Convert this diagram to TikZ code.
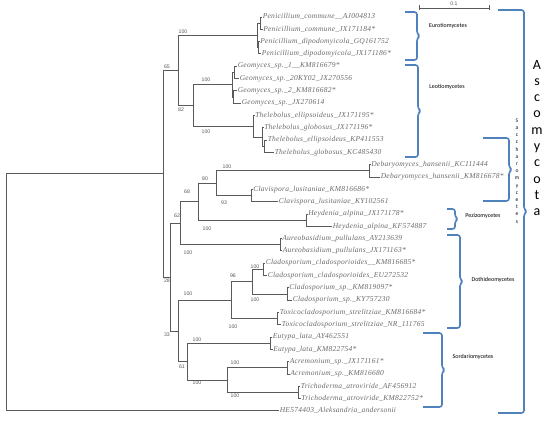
\documentclass[tikz,border=0pt]{standalone}
\usepackage{fontspec}
\newfontfamily\leaffont[LetterSpace=3.5]{Liberation Serif}
\newfontfamily\bsfont{Liberation Sans}
\newfontfamily\cladefont{Carlito}
\definecolor{treegray}{HTML}{5A5A5A}
\definecolor{leafgray}{HTML}{6A6A6A}
\definecolor{braceblue}{HTML}{4F81BD}
\tikzset{
  tree/.style={draw=treegray, line width=0.8pt},
  leaf/.style={anchor=west, inner sep=0.6pt, text=leafgray,
    font=\leaffont\itshape\fontsize{7.5}{9}\selectfont, text height=5pt, text depth=1.5pt},
  boot/.style={font=\bsfont\fontsize{5.2}{6}\selectfont, text=treegray, inner sep=0pt},
  clade/.style={font=\cladefont\fontsize{6}{7}\selectfont, inner sep=0pt},
  bracestyle/.style={draw=braceblue, line width=1.6pt, rounded corners=2.5pt, line join=round}
}
\newcommand\cladebrace[4]{%
  \draw[bracestyle] (#1,#3) -- (#2,#3) -- (#2,{(#3+#4)/2-2.5}) -- ({#2+3},{(#3+#4)/2})
    -- (#2,{(#3+#4)/2+2.5}) -- (#2,#4) -- (#1,#4);}
\begin{document}
\begin{tikzpicture}[x=1pt,y=-1pt]
\useasboundingbox (0,0) rectangle (550,422);
% internal nodes
\coordinate (root) at (6,292.35);
\coordinate (Xtop) at (163,173.8);
\coordinate (n65) at (178,70.5);
\coordinate (P) at (257,35.5);
\coordinate (A12) at (260,23.15);
\coordinate (A34) at (258,47.75);
\coordinate (n82) at (193,105.6);
\coordinate (G) at (232,84.7);
\coordinate (G56) at (234,72.4);
\coordinate (G78) at (233,97.05);
\coordinate (T) at (253,126.5);
\coordinate (Tb) at (262,137.5);
\coordinate (Tc) at (264.5,146.25);
\coordinate (n28) at (170,277.1);
\coordinate (n62) at (180,223.2);
\coordinate (n68) at (198,201.7);
\coordinate (n80) at (216,183.2);
\coordinate (Deb) at (369,170.85);
\coordinate (Cl) at (251,195.5);
\coordinate (He) at (306,220.15);
\coordinate (Au) at (280,244.75);
\coordinate (n33) at (178,331);
\coordinate (Do) at (231,300.2);
\coordinate (Cd) at (252,281.7);
\coordinate (Cc) at (263,269.35);
\coordinate (Cs) at (287,293.95);
\coordinate (Tx) at (277,318.6);
\coordinate (n61) at (187,361.7);
\coordinate (Eu) at (270,343.25);
\coordinate (AT) at (227,380.1);
\coordinate (Ac) at (287,367.85);
\coordinate (Tr) at (298,392.45);
% leaves
\node[leaf] (l1) at (262,17) {Penicillium\_commune\_\_AJ004813};
\node[leaf] (l2) at (262.5,29.3) {Penicillium\_commune\_JX171184*};
\node[leaf] (l3) at (259.5,41.6) {Penicillium\_dipodomyicola\_GQ161752};
\node[leaf] (l4) at (261,53.9) {Penicillium\_dipodomyicola\_JX171186*};
\node[leaf] (l5) at (237,66.2) {Geomyces\_sp.\_1\_\_KM816679*};
\node[leaf] (l6) at (239,78.6) {Geomyces\_sp.\_20KY02\_JX270556};
\node[leaf] (l7) at (237,90.9) {Geomyces\_sp.\_2\_KM816682*};
\node[leaf] (l8) at (241,103.2) {Geomyces\_sp.\_JX270614};
\node[leaf] (l9) at (254.5,115.5) {Thelebolus\_ellipsoideus\_JX171195*};
\node[leaf] (l10) at (263.5,127.8) {Thelebolus\_globosus\_JX171196*};
\node[leaf] (l11) at (267,140.1) {Thelebolus\_ellipsoideus\_KP411553};
\node[leaf] (l12) at (274,152.4) {Thelebolus\_globosus\_KC485430};
\node[leaf] (l13) at (370.5,164.7) {Debaryomyces\_hansenii\_KC111444};
\node[leaf] (l14) at (380,177) {Debaryomyces\_hansenii\_KM816678*};
\node[leaf] (l15) at (252.5,189.3) {Clavispora\_lusitaniae\_KM816686*};
\node[leaf] (l16) at (278,201.7) {Clavispora\_lusitaniae\_KY102561};
\node[leaf] (l17) at (307.5,214) {Heydenia\_alpina\_JX171178*};
\node[leaf] (l18) at (332,226.3) {Heydenia\_alpina\_KF574887};
\node[leaf] (l19) at (281.5,238.6) {Aureobasidium\_pullulans\_AY213639};
\node[leaf] (l20) at (282,250.9) {Aureobasidium\_pullulans\_JX171163*};
\node[leaf] (l21) at (265,263.2) {Cladosporium\_cladosporioides\_\_KM816685*};
\node[leaf] (l22) at (267,275.5) {Cladosporium\_cladosporioides\_EU272532};
\node[leaf] (l23) at (288.5,287.8) {Cladosporium\_sp.\_KM819097*};
\node[leaf] (l24) at (292,300.1) {Cladosporium\_sp.\_KY757230};
\node[leaf] (l25) at (279,312.4) {Toxicocladosporium\_strelitziae\_KM816684*};
\node[leaf] (l26) at (281,324.8) {Toxicocladosporium\_strelitziae\_NR\_111765};
\node[leaf] (l27) at (272,337.1) {Eutypa\_lata\_AY462551};
\node[leaf] (l28) at (272.5,349.4) {Eutypa\_lata\_KM822754*};
\node[leaf] (l29) at (289,361.7) {Acremonium\_sp.\_JX171161*};
\node[leaf] (l30) at (289.5,374) {Acremonium\_sp.\_KM816680};
\node[leaf] (l31) at (300,386.3) {Trichoderma\_atroviride\_AF456912};
\node[leaf] (l32) at (300.5,398.6) {Trichoderma\_atroviride\_KM822752*};
\node[leaf] (l33) at (279,410.9) {HE574403\_Aleksandria\_andersonii};
% branches
\draw[tree] (root) |- (Xtop); \draw[tree] (root) |- (l33.west);
\draw[tree] (Xtop) |- (n65); \draw[tree] (Xtop) |- (n28);
\draw[tree] (n65) |- (P); \draw[tree] (n65) |- (n82);
\draw[tree] (P) |- (A12); \draw[tree] (P) |- (A34);
\draw[tree] (A12) |- (l1.west); \draw[tree] (A12) |- (l2.west);
\draw[tree] (A34) |- (l3.west); \draw[tree] (A34) |- (l4.west);
\draw[tree] (n82) |- (G); \draw[tree] (n82) |- (T);
\draw[tree] (G) |- (G56); \draw[tree] (G) |- (G78);
\draw[tree] (G56) |- (l5.west); \draw[tree] (G56) |- (l6.west);
\draw[tree] (G78) |- (l7.west); \draw[tree] (G78) |- (l8.west);
\draw[tree] (T) |- (l9.west); \draw[tree] (T) |- (Tb);
\draw[tree] (Tb) |- (l10.west); \draw[tree] (Tb) |- (Tc);
\draw[tree] (Tc) |- (l11.west); \draw[tree] (Tc) |- (l12.west);
\draw[tree] (n28) |- (n62); \draw[tree] (n28) |- (n33);
\draw[tree] (n62) |- (n68); \draw[tree] (n62) |- (Au);
\draw[tree] (n68) |- (n80); \draw[tree] (n68) |- (He);
\draw[tree] (n80) |- (Deb); \draw[tree] (n80) |- (Cl);
\draw[tree] (Deb) |- (l13.west); \draw[tree] (Deb) |- (l14.west);
\draw[tree] (Cl) |- (l15.west); \draw[tree] (Cl) |- (l16.west);
\draw[tree] (He) |- (l17.west); \draw[tree] (He) |- (l18.west);
\draw[tree] (Au) |- (l19.west); \draw[tree] (Au) |- (l20.west);
\draw[tree] (n33) |- (Do); \draw[tree] (n33) |- (n61);
\draw[tree] (Do) |- (Cd); \draw[tree] (Do) |- (Tx);
\draw[tree] (Cd) |- (Cc); \draw[tree] (Cd) |- (Cs);
\draw[tree] (Cc) |- (l21.west); \draw[tree] (Cc) |- (l22.west);
\draw[tree] (Cs) |- (l23.west); \draw[tree] (Cs) |- (l24.west);
\draw[tree] (Tx) |- (l25.west); \draw[tree] (Tx) |- (l26.west);
\draw[tree] (n61) |- (Eu); \draw[tree] (n61) |- (AT);
\draw[tree] (Eu) |- (l27.west); \draw[tree] (Eu) |- (l28.west);
\draw[tree] (AT) |- (Ac); \draw[tree] (AT) |- (Tr);
\draw[tree] (Ac) |- (l29.west); \draw[tree] (Ac) |- (l30.west);
\draw[tree] (Tr) |- (l31.west); \draw[tree] (Tr) |- (l32.west);
% bootstrap values
\node[boot] (b1) at (183,32) {100};
\node[boot] (b2) at (167,67) {65};
\node[boot] (b3) at (181,110) {82};
\node[boot] (b4) at (206,80) {100};
\node[boot] (b5) at (206,132) {100};
\node[boot] (b6) at (205,179) {80};
\node[boot] (b7) at (187,192) {68};
\node[boot] (b8) at (177,216) {62};
\node[boot] (b9) at (227,167) {100};
\node[boot] (b10) at (224,203) {93};
\node[boot] (b11) at (207,229) {100};
\node[boot] (b12) at (188,253) {100};
\node[boot] (b13) at (167,281) {28};
\node[boot] (b14) at (188,294) {100};
\node[boot] (b15) at (167,335) {33};
\node[boot] (b16) at (197,340) {100};
\node[boot] (b17) at (182,367) {61};
\node[boot] (b18) at (197,383) {100};
\node[boot] (b19) at (233,276) {96};
\node[boot] (b20) at (233,327) {100};
\node[boot] (b21) at (255,267) {100};
\node[boot] (b22) at (255,300) {100};
\node[boot] (b23) at (235,363) {100};
\node[boot] (b24) at (235,396) {100};
% scale bar
\coordinate (sbl) at (419,8);
\coordinate (sbr) at (489,8);
\draw[tree, line width=0.7pt] (sbl) -- (sbr);
\draw[tree, line width=0.7pt] ([yshift=2.5pt]sbl) -- ([yshift=-2.5pt]sbl);
\draw[tree, line width=0.7pt] ([yshift=2.5pt]sbr) -- ([yshift=-2.5pt]sbr);
\node[boot, anchor=south] (sb) at (454,6) {0.1};
% clade braces
\cladebrace{405}{417}{12}{60}
\cladebrace{405}{418}{65}{157}
\cladebrace{483}{509}{138}{201}
\cladebrace{447}{455}{209}{229}
\cladebrace{447}{460}{235}{328}
\cladebrace{423}{442}{333}{407}
\cladebrace{498}{524}{10}{413}
% clade labels
\node[clade] (euro) at (448,26) {Eurotiomycetes};
\node[clade] (leo) at (447,87) {Leotiomycetes};
\node[clade] (pez) at (483,216) {Pezizomycetes};
\node[clade] (doth) at (493,280) {Dothideomycetes};
\node[clade] (sord) at (473,357) {Sordariomycetes};
\node[clade, align=center, font=\cladefont\fontsize{5.5}{7.2}\selectfont] (sacch) at (517,171)
  {S\\a\\c\\c\\h\\a\\r\\o\\m\\y\\c\\e\\t\\e\\s};
\node[clade, align=center, font=\cladefont\fontsize{14}{16.3}\selectfont] (asco) at (537,138)
  {A\\s\\c\\o\\m\\y\\c\\o\\t\\a};
\end{tikzpicture}
\end{document}
